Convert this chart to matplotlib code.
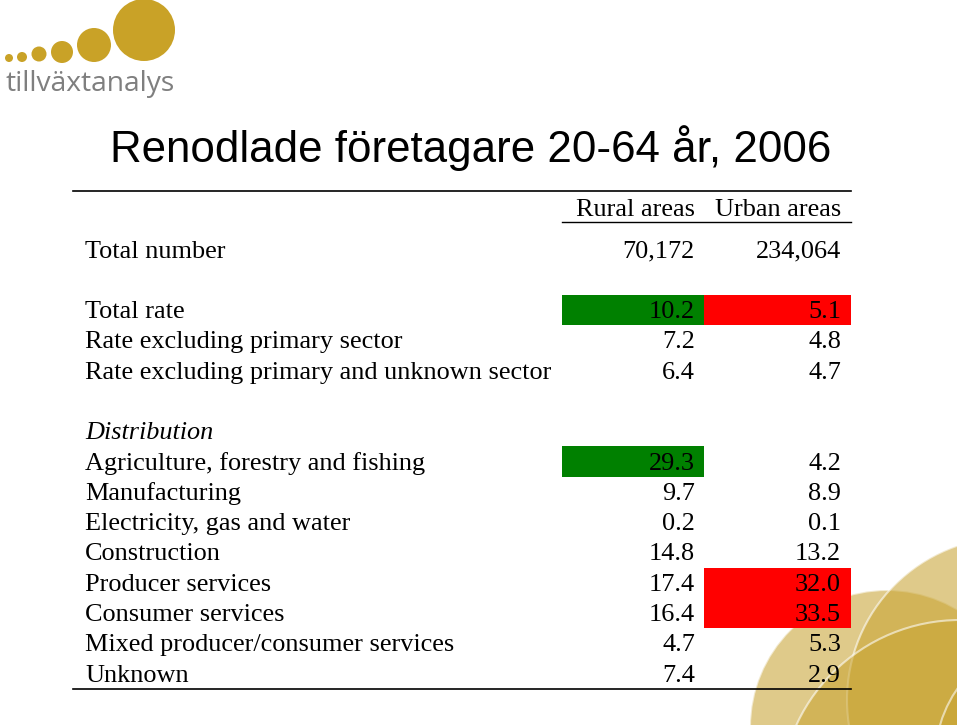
import matplotlib.pyplot as plt
from matplotlib.patches import Circle, Rectangle

# table data
title = "Renodlade företagare 20-64 år, 2006"
columns = ["Rural areas", "Urban areas"]
row_labels = ["Total number", "",
              "Total rate", "Rate excluding primary sector",
              "Rate excluding primary and unknown sector", "",
              "Distribution",
              "Agriculture, forestry and fishing", "Manufacturing",
              "Electricity, gas and water", "Construction",
              "Producer services", "Consumer services",
              "Mixed producer/consumer services", "Unknown"]
rural = ["70,172", "", "10.2", "7.2", "6.4", "", "",
         "29.3", "9.7", "0.2", "14.8", "17.4", "16.4", "4.7", "7.4"]
urban = ["234,064", "", "5.1", "4.8", "4.7", "", "",
         "4.2", "8.9", "0.1", "13.2", "32.0", "33.5", "5.3", "2.9"]
# cell highlight: g = high (green), r = low (red)
rural_hl = ["", "", "g", "", "", "", "", "g", "", "", "", "", "", "", ""]
urban_hl = ["", "", "r", "", "", "", "", "", "", "", "", "r", "r", "", ""]
hl_colors = {"g": "#008000", "r": "#FF0000"}

GOLD = "#C9A227"

fig = plt.figure(figsize=(9.6, 7.28), dpi=100)
ax = fig.add_axes([0, 0, 1, 1])
ax.set_xlim(0, 960)
ax.set_ylim(728, 0)
ax.axis("off")

# decorative circles bottom right, clipped to a box
clip = Rectangle((740, 540), 217, 185, transform=ax.transData, visible=False)
ax.add_patch(clip)
for cx, cy, r in [(887, 727, 137), (1010, 700, 163), (960, 800, 180), (1060, 760, 125)]:
    c = Circle((cx, cy), r, facecolor="#C9A535", alpha=0.58,
               edgecolor=(1, 1, 1, 0.6), lw=1.5, zorder=0)
    ax.add_patch(c)
    c.set_clip_path(clip)

# logo
for cx, cy, r in [(9, 58, 4), (22, 57, 5), (39, 54, 7.5), (62, 52, 11),
                  (94, 45, 17), (144, 30, 31)]:
    ax.add_patch(Circle((cx, cy), r, facecolor=GOLD, edgecolor="none", zorder=1))
ax.text(5, 84, "tillväxtanalys", fontsize=20.3, color="#7F7F7F",
        family="Open Sans", ha="left", va="center")

# title
ax.text(110, 148, title, fontsize=31.6, family="Liberation Sans",
        ha="left", va="center")

serif = "Liberation Serif"
fs = 18.9
x_label, x_rural, x_urban = 85, 695, 841
c_left, c_mid, c_right = 562, 704, 851
y0, pitch = 249.5, 30.3
dy = 2  # text baseline nudge

# lines
ax.plot([73, c_right], [191, 191], color="black", lw=1.2, zorder=3)
ax.plot([c_left, c_right], [222, 222], color="black", lw=1.0, zorder=3)
ax.text(x_rural, 208 + dy, columns[0], fontsize=fs, family=serif, ha="right", va="center")
ax.text(x_urban, 208 + dy, columns[1], fontsize=fs, family=serif, ha="right", va="center")

for i, lab in enumerate(row_labels):
    y = y0 + i * pitch
    if rural_hl[i]:
        ax.add_patch(Rectangle((c_left, y - pitch / 2), c_mid - c_left, pitch,
                               facecolor=hl_colors[rural_hl[i]], edgecolor="none", zorder=2))
    if urban_hl[i]:
        ax.add_patch(Rectangle((c_mid, y - pitch / 2), c_right - c_mid, pitch,
                               facecolor=hl_colors[urban_hl[i]], edgecolor="none", zorder=2))
    style = "italic" if lab == "Distribution" else "normal"
    ax.text(x_label, y + dy, lab, fontsize=fs, family=serif, style=style,
            ha="left", va="center", zorder=4)
    ax.text(x_rural, y + dy, rural[i], fontsize=fs, family=serif, ha="right", va="center", zorder=4)
    ax.text(x_urban, y + dy, urban[i], fontsize=fs, family=serif, ha="right", va="center", zorder=4)

y_end = y0 + (len(row_labels) - 1) * pitch + pitch / 2
ax.plot([73, c_right], [y_end, y_end], color="black", lw=1.2, zorder=3)

fig.savefig("out.png", dpi=100)
